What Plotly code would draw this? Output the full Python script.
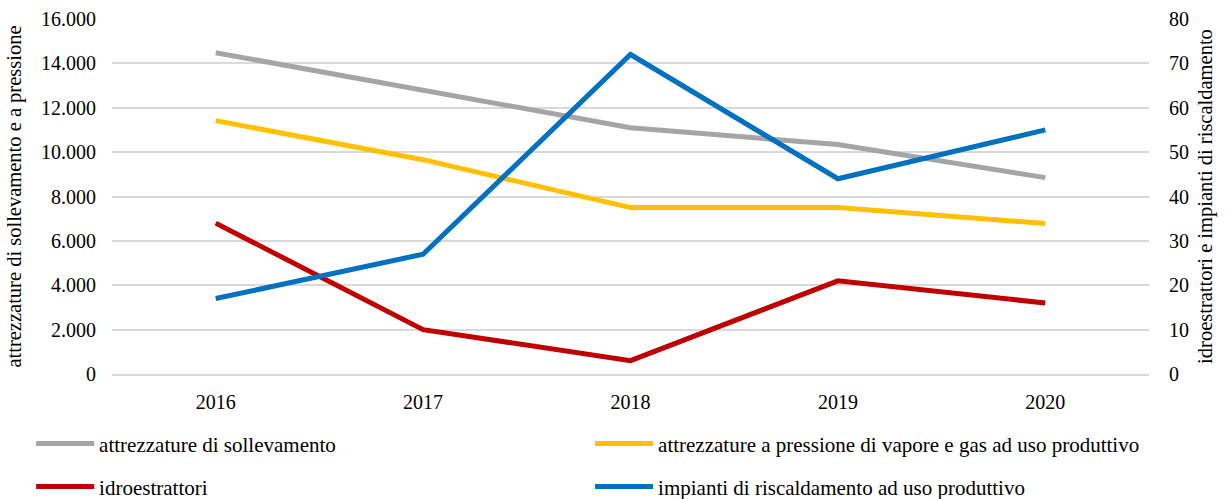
import plotly.graph_objects as go

years = ["2016", "2017", "2018", "2019", "2020"]
sollevamento = [14480, 12770, 11100, 10340, 8850]
pressione = [11420, 9660, 7500, 7500, 6780]
idroestrattori = [34, 10, 3, 21, 16]
riscaldamento = [17, 27, 72, 44, 55]

names = [
    "attrezzature di sollevamento",
    "attrezzature a pressione di vapore e gas ad uso produttivo",
    "idroestrattori",
    "impianti di riscaldamento ad uso produttivo",
]
colors = ["#A5A5A5", "#FFC000", "#C00000", "#0070C0"]

FONT = "serif"
fig = go.Figure()
fig.add_trace(go.Scatter(x=years, y=sollevamento, name=names[0], mode="lines",
                         line=dict(color=colors[0], width=5), legend="legend"))
fig.add_trace(go.Scatter(x=years, y=pressione, name=names[1], mode="lines",
                         line=dict(color=colors[1], width=5), legend="legend2"))
fig.add_trace(go.Scatter(x=years, y=idroestrattori, name=names[2], mode="lines",
                         line=dict(color=colors[2], width=5), yaxis="y2", legend="legend3"))
fig.add_trace(go.Scatter(x=years, y=riscaldamento, name=names[3], mode="lines",
                         line=dict(color=colors[3], width=5), yaxis="y2", legend="legend4"))

leg_common = dict(orientation="h", xanchor="left", yanchor="middle",
                  font=dict(family=FONT, size=21, color="black"),
                  bgcolor="rgba(0,0,0,0)", itemwidth=58)

x1 = -0.078
x2 = 0.461
r1 = -0.197
r2 = -0.318

fig.update_layout(
    width=1229, height=499,
    margin=dict(l=112, r=80, t=19, b=125, autoexpand=False),
    plot_bgcolor="white", paper_bgcolor="white",
    separators=",.",
    font=dict(family=FONT, size=20, color="black"),
    showlegend=True,
    legend=dict(x=x1, y=r1, **leg_common),
    legend2=dict(x=x2, y=r1, **leg_common),
    legend3=dict(x=x1, y=r2, **leg_common),
    legend4=dict(x=x2, y=r2, **leg_common),
    xaxis=dict(type="category", range=[-0.5, 4.5], showgrid=False, showline=True,
               linecolor="#D9D9D9", linewidth=1.5, ticks="", ticklabelstandoff=9,
               tickfont=dict(family=FONT, size=20, color="black")),
    yaxis=dict(range=[0, 16000], dtick=2000, tickformat=",d", showgrid=True,
               gridcolor="#D9D9D9", gridwidth=1.5, zeroline=False, ticks="",
               ticklabelstandoff=15,
               title=dict(text="attrezzature di sollevamento e a pressione", standoff=13,
                          font=dict(family=FONT, size=20.5, color="black")),
               tickfont=dict(family=FONT, size=20, color="black")),
    yaxis2=dict(range=[0, 80], dtick=10, overlaying="y", side="right", showgrid=False,
                zeroline=False, ticks="", ticklabelstandoff=19,
                title=dict(text="idroestrattori e impianti di riscaldamento", standoff=9,
                           font=dict(family=FONT, size=20.5, color="black")),
                tickfont=dict(family=FONT, size=20, color="black")),
)

fig.write_html("out.html", config={"displayModeBar": False},
               post_script="document.body.style.margin='0';")
